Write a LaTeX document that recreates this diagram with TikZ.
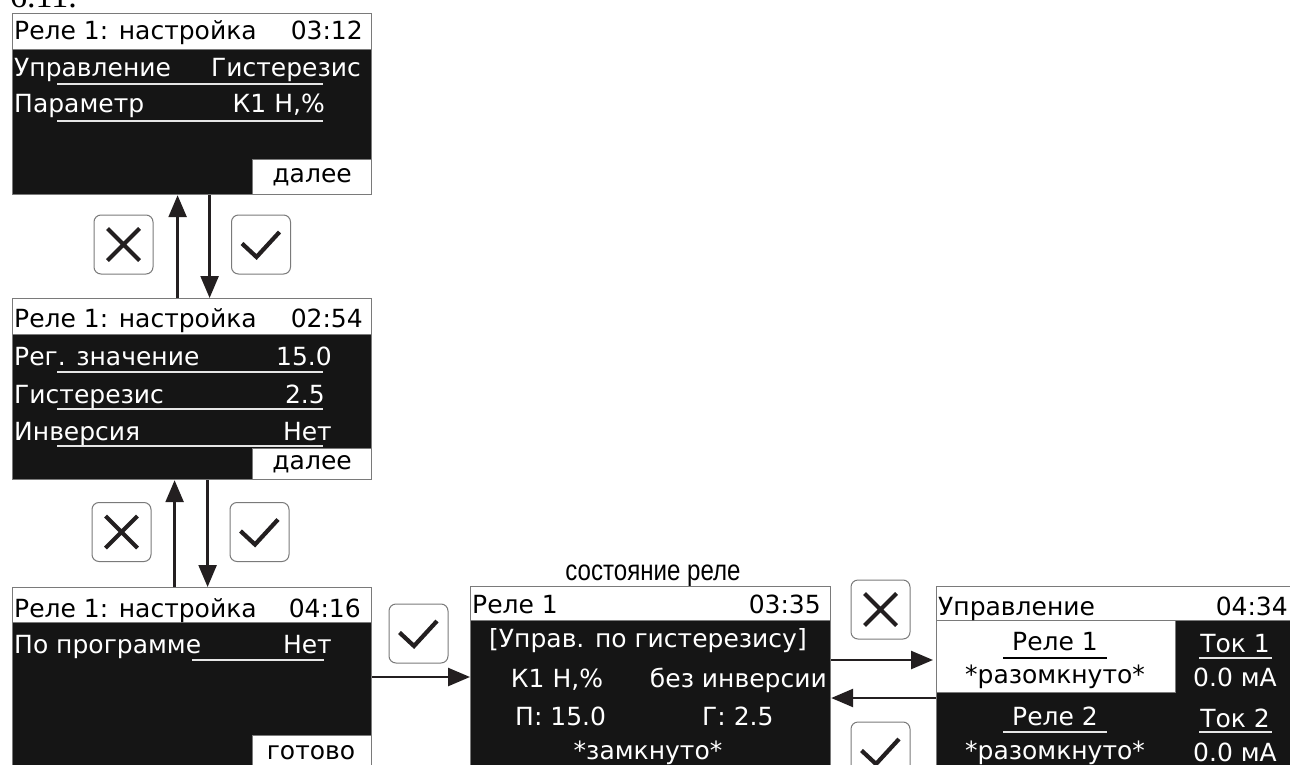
\documentclass[tikz,border=0pt]{standalone}
\usepackage{fontspec}
\setmainfont{DejaVu Sans}
\newfontfamily\capfont{Liberation Sans}
\newfontfamily\serfont{Liberation Serif}
\usetikzlibrary{arrows.meta,calc}
\definecolor{lcd}{HTML}{151515}
\definecolor{ink}{HTML}{231F20}
\definecolor{frame}{HTML}{7A7A7A}
\definecolor{ul}{HTML}{E6E6E6}
\newcommand\xglyph[1]{\draw[glyph] ($(#1)+(-16,-16)$) -- ($(#1)+(16,16)$) ($(#1)+(16,-16)$) -- ($(#1)+(-16,16)$);}
\newcommand\vglyph[1]{\draw[glyph] ($(#1)+(-19,-1)$) -- ($(#1)+(-4.5,12.5)$) -- ($(#1)+(18.5,-12.5)$);}
\begin{document}
\begin{tikzpicture}[x=1pt,y=-1pt,
  screen/.style={draw=frame, line width=1.2pt, fill=lcd, anchor=north west, inner sep=0},
  bar/.style={draw=frame, line width=1.2pt, fill=white, anchor=north west, inner sep=0},
  softkey/.style={draw=frame, line width=1.2pt, fill=white, inner sep=0, text=black, font=\fontsize{25}{27}\selectfont},
  lt/.style={text=white, inner sep=0, font=\fontsize{25}{27}\selectfont},
  dt/.style={text=black, inner sep=0, font=\fontsize{25}{27}\selectfont},
  uline/.style={draw=ul, line width=2pt},
  arr/.style={draw=ink, line width=2.5pt, -{Triangle[length=22pt,width=18pt]}},
  keybox/.style={draw=frame, line width=1pt, rounded corners=7pt, minimum width=59pt, minimum height=59pt, fill=white, inner sep=0},
  glyph/.style={draw=ink, line width=4.2pt}]
\clip (0,0) rectangle (1290,765);
\fill[white] (0,0) rectangle (1290,765);
% caption fragment
\node[anchor=base west, inner sep=0, font=\serfont\fontsize{34}{34}\selectfont] (cap) at (10,8) {6.11.};
% ---------- screen 1
\node[screen, minimum width=359pt, minimum height=181pt] (s1) at (12,13) {};
\node[bar, minimum width=359pt, minimum height=36pt] (s1t) at (s1.north west) {};
\node[softkey, anchor=south east, minimum width=119pt, minimum height=35pt] (s1k) at (s1.south east) {далее};
\node[dt, anchor=base west] (s1a) at (14,40) {Реле 1: настройка};
\node[dt, anchor=base east] (s1b) at (363,40) {03:12};
\node[lt, anchor=base west] (s1c) at (14,77) {Управление};
\node[lt, anchor=base east] (s1d) at (361,77) {Гистерезис};
\draw[uline] (57,84) -- (323,84);
\node[lt, anchor=base west] (s1e) at (14,113) {Параметр};
\node[lt, anchor=base east] (s1f) at (325,113) {К1 Н,\%};
\draw[uline] (57,121) -- (323,121);
% ---------- screen 2
\node[screen, minimum width=359pt, minimum height=181pt] (s2) at (12,298) {};
\node[bar, minimum width=359pt, minimum height=36pt] (s2t) at (s2.north west) {};
\node[softkey, anchor=south east, minimum width=119pt, minimum height=31pt] (s2k) at (s2.south east) {далее};
\node[dt, anchor=base west] (s2a) at (14,327) {Реле 1: настройка};
\node[dt, anchor=base east] (s2b) at (363,327) {02:54};
\node[lt, anchor=base west] (s2c) at (14,365) {Рег. значение};
\node[lt, anchor=base east] (s2d) at (332,365) {15.0};
\draw[uline] (57,372) -- (323,372);
\node[lt, anchor=base west] (s2e) at (14,403) {Гистерезис};
\node[lt, anchor=base east] (s2f) at (325,403) {2.5};
\draw[uline] (57,409) -- (323,409);
\node[lt, anchor=base west] (s2g) at (14,440) {Инверсия};
\node[lt, anchor=base east] (s2h) at (332,440) {Нет};
\draw[uline] (57,446) -- (323,446);
% ---------- screen 3
\node[screen, minimum width=359pt, minimum height=220pt] (s3) at (12,587) {};
\node[bar, minimum width=359pt, minimum height=35pt] (s3t) at (s3.north west) {};
\node[softkey, anchor=north west, minimum width=119pt, minimum height=40pt] (s3k) at (252,735) {};
\node[dt, anchor=base] (s3kt) at (311,759) {готово};
\node[dt, anchor=base west] (s3a) at (14,617) {Реле 1: настройка};
\node[dt, anchor=base east] (s3b) at (361,617) {04:16};
\node[lt, anchor=base west] (s3c) at (14,653) {По программе};
\node[lt, anchor=base east] (s3d) at (332,653) {Нет};
\draw[uline] (192,660) -- (324,660);
% ---------- screen 4
\node[anchor=base, inner sep=0, font=\capfont\fontsize{29}{29}\selectfont] (s4cap) at (653,580) {\scalebox{0.83}[1]{состояние реле}};
\node[screen, minimum width=360pt, minimum height=220pt] (s4) at (470,586) {};
\node[bar, minimum width=360pt, minimum height=34pt] (s4t) at (s4.north west) {};
\node[dt, anchor=base west] (s4a) at (472,613) {Реле 1};
\node[dt, anchor=base east] (s4b) at (821,613) {03:35};
\node[lt, anchor=base] (s4c) at (648,647) {[Управ. по гистерезису]};
\node[lt, anchor=base] (s4d) at (557,687) {К1 Н,\%};
\node[lt, anchor=base east] (s4e) at (827,687) {без инверсии};
\node[lt, anchor=base west] (s4f) at (515,725) {П: 15.0};
\node[lt, anchor=base west] (s4g) at (702,725) {Г: 2.5};
\node[lt, anchor=base] (s4h) at (648,759) {*замкнуто*};
% ---------- screen 5
\node[screen, minimum width=400pt, minimum height=220pt] (s5) at (936,586) {};
\node[bar, minimum width=400pt, minimum height=34pt] (s5t) at (s5.north west) {};
\node[bar, minimum width=239pt, minimum height=72pt] (s5w) at (936,620) {};
\node[dt, anchor=base west] (s5a) at (938,615) {Управление};
\node[dt, anchor=base east] (s5b) at (1288,615) {04:34};
\node[dt, anchor=base] (s5c) at (1055,650) {Реле 1};
\draw[draw=black, line width=2pt] (1003,658) -- (1107,658);
\node[dt, anchor=base] (s5d) at (1055,683) {*разомкнуто*};
\node[lt, anchor=base] (s5e) at (1055,725) {Реле 2};
\draw[uline] (1003,732) -- (1107,732);
\node[lt, anchor=base] (s5f) at (1055,759) {*разомкнуто*};
\node[lt, anchor=base] (s5g) at (1235,652) {Ток 1};
\draw[uline] (1199,658) -- (1272,658);
\node[lt, anchor=base] (s5h) at (1235,686) {0.0 мА};
\node[lt, anchor=base] (s5i) at (1235,727) {Ток 2};
\draw[uline] (1199,732) -- (1272,732);
\node[lt, anchor=base] (s5j) at (1235,761) {0.0 мА};
% ---------- keys
\node[keybox] (ix1) at (123.5,244.5) {};
\node[keybox] (ic1) at (261,244.5) {};
\node[keybox] (ix2) at (121.5,532) {};
\node[keybox] (ic2) at (259.5,532) {};
\node[keybox] (ic3) at (418.5,633.5) {};
\node[keybox] (ix3) at (880.5,609.5) {};
\node[keybox] (ic4) at (880.5,751.5) {};
\xglyph{ix1}\xglyph{ix2}\xglyph{ix3}
\vglyph{ic1}\vglyph{ic2}\vglyph{ic3}\vglyph{ic4}
% ---------- connectors
\draw[arr] ([xshift=-14.5pt]s2.north) -- ([xshift=-14.5pt]s1.south);
\draw[arr] ([xshift=17.5pt]s1.south) -- ([xshift=17.5pt]s2.north);
\draw[arr] ([xshift=-17.5pt]s3.north) -- ([xshift=-17.5pt]s2.south);
\draw[arr] ([xshift=15.5pt]s2.south) -- ([xshift=15.5pt]s3.north);
\draw[arr] ($(s3.north east)+(0,90)$) -- ($(s4.north west)+(0,91)$);
\draw[arr] ($(s4.north east)+(0,74)$) -- ($(s5.north west)+(-3,74)$);
\draw[arr] ($(s5.north west)+(0,112)$) -- ($(s4.north east)+(0,112)$);
\end{tikzpicture}
\end{document}
